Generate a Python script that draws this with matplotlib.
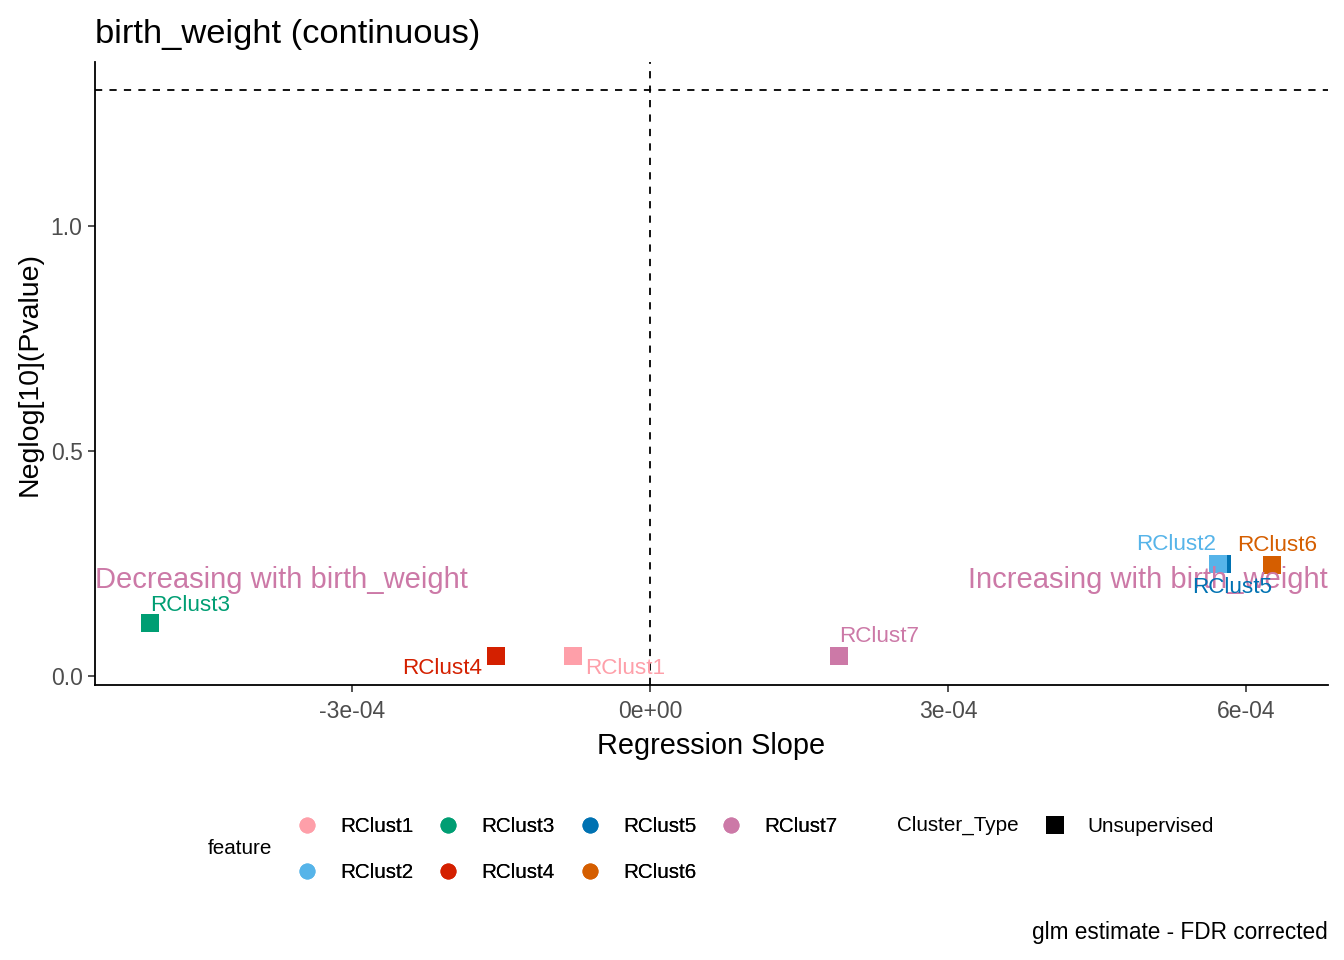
import matplotlib
matplotlib.use('Agg')
import matplotlib.pyplot as plt
from matplotlib.lines import Line2D
from matplotlib.transforms import blended_transform_factory

plt.rcParams['font.family'] = ['Liberation Sans', 'DejaVu Sans']

# data (draw order matters: RClust5 sits under RClust2)
features = ['RClust3', 'RClust4', 'RClust1', 'RClust7', 'RClust5', 'RClust2', 'RClust6']
slopes = [-5.03e-4, -1.55e-4, -7.7e-5, 1.90e-4, 5.76e-4, 5.72e-4, 6.26e-4]
neglog_p = [0.117, 0.044, 0.044, 0.044, 0.249, 0.249, 0.246]
fdr_cut = 1.30103  # -log10(0.05)

legend_order = ['RClust1', 'RClust2', 'RClust3', 'RClust4', 'RClust5', 'RClust6', 'RClust7']
palette = {
    'RClust1': '#FE9FA9',
    'RClust2': '#56B4E9',
    'RClust3': '#009E73',
    'RClust4': '#D42000',
    'RClust5': '#0072B2',
    'RClust6': '#D55E00',
    'RClust7': '#CC79A7',
}
# label offsets in points (ggrepel-ish placement)
label_offsets = {
    'RClust3': (29, 13), 'RClust4': (-39, -9), 'RClust1': (37, -9),
    'RClust7': (29, 14), 'RClust2': (-30, 14), 'RClust6': (4, 14),
    'RClust5': (7, -17),
}

fig = plt.figure(figsize=(13.44, 9.6), dpi=100)
ax = fig.add_axes([95 / 1344, 1 - 685 / 960, (1328 - 95) / 1344, (685 - 62) / 960])

for f, x, y in zip(features, slopes, neglog_p):
    ax.scatter(x, y, marker='s', s=185, color=palette[f], linewidths=0, zorder=3)
    dx, dy = label_offsets[f]
    ax.annotate(f, (x, y), xytext=(dx, dy), textcoords='offset points',
                ha='center', va='center', fontsize=16.2, color=palette[f], zorder=4)

ax.axvline(0, color='black', linestyle=(0, (4, 4)), linewidth=1.3, zorder=1)
ax.axhline(fdr_cut, color='black', linestyle=(0, (4, 4)), linewidth=1.3, zorder=1)

trans = blended_transform_factory(ax.transAxes, ax.transData)
ax.text(0, 0.214, 'Decreasing with birth_weight', transform=trans, ha='left', va='center',
        fontsize=21, color='#CC79A7')
ax.text(1, 0.214, 'Increasing with birth_weight', transform=trans, ha='right', va='center',
        fontsize=21, color='#CC79A7')

ax.set_xlim(-5.587e-4, 6.826e-4)
ax.set_ylim(-0.02, 1.363)
ax.set_xticks([-3e-4, 0, 3e-4, 6e-4])
ax.set_xticklabels(['-3e-04', '0e+00', '3e-04', '6e-04'])
ax.set_yticks([0, 0.5, 1.0])
ax.set_yticklabels(['0.0', '0.5', '1.0'])
ax.tick_params(axis='both', labelsize=16.5, labelcolor='#4D4D4D', color='#333333',
               length=5, width=1.2)
ax.tick_params(axis='x', pad=6)
ax.tick_params(axis='y', pad=4)
for side in ['top', 'right']:
    ax.spines[side].set_visible(False)
for side in ['left', 'bottom']:
    ax.spines[side].set_linewidth(1.3)

ax.set_xlabel('Regression Slope', fontsize=20.8, labelpad=6)
ax.set_ylabel('Neglog[10](Pvalue)', fontsize=20.5, labelpad=6)

fig.text(95 / 1344, 1 - 34 / 960, 'birth_weight (continuous)', fontsize=24.8,
         ha='left', va='center')
fig.text(1328 / 1344, 1 - 933 / 960, 'glm estimate - FDR corrected', fontsize=16.3,
         ha='right', va='center')

# legends
handles = [Line2D([], [], marker='o', linestyle='', markersize=11.5,
                  markerfacecolor=palette[f], markeredgewidth=0) for f in legend_order]
leg1 = fig.legend(handles, legend_order, ncol=4, frameon=False, fontsize=14.9,
                  loc='upper left', bbox_to_anchor=(286 / 1344, 1 - 807 / 960),
                  borderpad=0, handlelength=1.0, handletextpad=1.1,
                  columnspacing=1.2, labelspacing=1.29)
fig.text(208 / 1344, 1 - 849 / 960, 'feature', fontsize=14.9, ha='left', va='center')

sq = [Line2D([], [], marker='s', linestyle='', markersize=12.5, markerfacecolor='black',
             markeredgewidth=0)]
leg2 = fig.legend(sq, ['Unsupervised'], frameon=False, fontsize=14.9,
                  loc='upper left', bbox_to_anchor=(1034 / 1344, 1 - 807 / 960),
                  borderpad=0, handlelength=1.0, handletextpad=1.1)
fig.add_artist(leg1)
fig.text(897 / 1344, 1 - 825 / 960, 'Cluster_Type', fontsize=14.9, ha='left', va='center')

fig.savefig('out.png', dpi=100)
